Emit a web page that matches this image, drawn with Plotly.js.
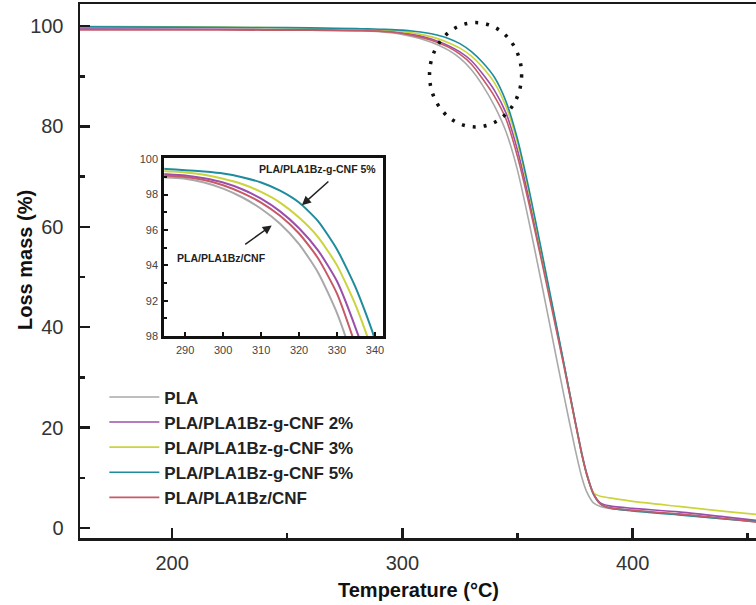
<!DOCTYPE html>
<html>
<head>
<meta charset="utf-8">
<script src="https://cdn.plot.ly/plotly-3.0.1.min.js"></script>
<style>html,body{margin:0;padding:0;background:#fff;}#chart{width:756px;height:605px;}</style>
</head>
<body>
<div id="chart"></div>
<script>
const temperature = [160, 200, 240, 260, 280, 285, 290, 295, 300, 305, 310, 315, 320, 325, 330, 335, 340, 345, 350, 355, 360, 365, 370, 375, 378, 380, 383, 386, 390, 400, 420, 440, 454];
const pla      = [99.45, 99.4, 99.3, 99.2, 99.05, 98.97, 98.9, 98.68, 98.34, 97.85, 97.2, 96.35, 95.2, 93.6, 91.3, 88.1, 84.1, 79.0, 71.3, 61.0, 49.8, 38.3, 26.8, 15.8, 10.0, 7.3, 5.0, 4.3, 3.9, 3.5, 2.7, 1.8, 1.2];
const cnf2     = [99.4, 99.38, 99.33, 99.28, 99.2, 99.15, 99.08, 98.92, 98.68, 98.3, 97.77, 97.05, 96.1, 94.85, 93.1, 90.4, 87.2, 82.7, 75.3, 65.6, 55.0, 44.1, 33.0, 21.5, 14.8, 11.0, 6.9, 5.0, 4.4, 3.9, 3.2, 2.2, 1.5];
const cnf3     = [99.95, 99.85, 99.72, 99.6, 99.4, 99.32, 99.25, 99.12, 98.9, 98.6, 98.15, 97.55, 96.7, 95.6, 94.0, 91.7, 88.7, 84.0, 76.8, 66.9, 55.8, 44.4, 33.0, 21.2, 14.5, 10.7, 7.0, 6.3, 6.0, 5.3, 4.3, 3.3, 2.7];
const cnf5     = [99.85, 99.8, 99.72, 99.65, 99.5, 99.45, 99.38, 99.3, 99.19, 98.98, 98.68, 98.22, 97.55, 96.5, 94.9, 92.7, 89.8, 85.0, 77.5, 67.5, 56.3, 44.8, 33.2, 21.4, 14.6, 10.8, 6.7, 4.8, 4.0, 3.4, 2.6, 1.8, 1.3];
const bzCnf    = [99.25, 99.24, 99.2, 99.16, 99.1, 99.07, 99.0, 98.82, 98.53, 98.1, 97.55, 96.8, 95.8, 94.4, 92.4, 89.4, 86.0, 81.5, 74.0, 64.6, 54.2, 43.5, 32.6, 21.2, 14.5, 10.8, 6.8, 4.8, 4.0, 3.5, 2.8, 1.9, 1.2];

const seriesNames = ['PLA', 'PLA/PLA1Bz-g-CNF 2%', 'PLA/PLA1Bz-g-CNF 3%', 'PLA/PLA1Bz-g-CNF 5%', 'PLA/PLA1Bz/CNF'];
const seriesValues = [pla, cnf2, cnf3, cnf5, bzCnf];
const seriesColors = ['#a9a9a9', '#9b4fab', '#ccd43c', '#1f8c9c', '#c65a66'];

const mainXTicks = [200, 300, 400];
const mainYTicks = [0, 20, 40, 60, 80, 100];
const insetXTicks = [290, 300, 310, 320, 330, 340];
const insetYTicks = [90, 92, 94, 96, 98, 100];
const insetYTickText = ['98', '92', '94', '96', '98', '100'];
const xTitle = 'Temperature (°C)';
const yTitle = 'Loss mass (%)';

const FONT = 'Liberation Sans, Arial, Helvetica, sans-serif';
const traces = [];
seriesValues.forEach((vals, i) => {
  traces.push({
    x: temperature, y: vals, name: seriesNames[i], type: 'scatter', mode: 'lines',
    line: {color: seriesColors[i], width: 1.6, shape: 'spline', smoothing: 0.6},
    xaxis: 'x', yaxis: 'y', showlegend: true, hoverinfo: 'skip'
  });
});
seriesValues.forEach((vals, i) => {
  traces.push({
    x: temperature, y: vals, name: seriesNames[i], type: 'scatter', mode: 'lines',
    line: {color: seriesColors[i], width: 2, shape: 'spline', smoothing: 0.6},
    xaxis: 'x2', yaxis: 'y2', showlegend: false, hoverinfo: 'skip'
  });
});

const axisColor = '#1a1a1a';
const layout = {
  width: 756, height: 605,
  margin: {l: 80, r: 0, t: 4, b: 67},
  paper_bgcolor: '#ffffff', plot_bgcolor: '#ffffff',
  font: {family: FONT, color: '#333'},
  xaxis: {
    domain: [0, 1], range: [160, 453.6], showgrid: false, zeroline: false,
    showline: true, linewidth: 2.5, linecolor: axisColor, mirror: true,
    ticks: 'inside', ticklen: 10, tickwidth: 2.5, tickcolor: axisColor,
    tickvals: mainXTicks, ticklabelstandoff: 5,
    minor: {dtick: 50, tick0: 0, ticks: 'inside', ticklen: 5, tickwidth: 2.5, tickcolor: axisColor, showgrid: false},
    tickfont: {family: FONT, size: 20, color: '#333'}
  },
  yaxis: {
    domain: [0, 1], range: [-2, 104.4], showgrid: false, zeroline: false,
    showline: true, linewidth: 2.5, linecolor: axisColor, mirror: false,
    ticks: 'inside', ticklen: 10, tickwidth: 2.5, tickcolor: axisColor,
    tickvals: mainYTicks, ticklabelstandoff: 10,
    minor: {dtick: 10, tick0: 0, ticks: 'inside', ticklen: 5, tickwidth: 2.5, tickcolor: axisColor, showgrid: false},
    tickfont: {family: FONT, size: 20, color: '#333'}
  },
  xaxis2: {
    domain: [0.1247, 0.4487], anchor: 'y2', range: [284.5, 342.2], showgrid: false, zeroline: false,
    showline: true, linewidth: 3, linecolor: '#111', mirror: true,
    ticks: 'inside', ticklen: 4, tickwidth: 2, tickcolor: '#111',
    tickvals: insetXTicks, ticklabelstandoff: 2,
    tickfont: {family: FONT, size: 11, color: '#444'}
  },
  yaxis2: {
    domain: [0.378, 0.711], anchor: 'x2', range: [90, 100.05], showgrid: false, zeroline: false,
    showline: true, linewidth: 3, linecolor: '#111', mirror: true,
    ticks: 'inside', ticklen: 4, tickwidth: 2, tickcolor: '#111',
    tickvals: insetYTicks, ticktext: insetYTickText, ticklabelstandoff: 1,
    minor: {dtick: 1, tick0: 0, ticks: 'inside', ticklen: 3, tickwidth: 2, tickcolor: '#111', showgrid: false},
    tickfont: {family: FONT, size: 11, color: '#444'}
  },
  legend: {
    x: 0.036, xanchor: 'left', y: 0.297, yanchor: 'top',
    bgcolor: 'rgba(0,0,0,0)', borderwidth: 0,
    font: {family: FONT, size: 17, color: '#222', weight: 'bold'},
    itemwidth: 50, tracegroupgap: 0
  },
  shapes: [{
    type: 'circle', xref: 'x', yref: 'y', x0: 311.8, x1: 351.8, y0: 79.9, y1: 100.7,
    line: {color: '#111', width: 3.5, dash: '3px,8px'}
  }],
  annotations: [
    {xref: 'paper', yref: 'paper', x: 0.5, y: -0.0974, xanchor: 'center', yanchor: 'middle',
     text: '<b>' + xTitle + '</b>', showarrow: false, font: {family: FONT, size: 20, color: '#111'}},
    {xref: 'paper', yref: 'paper', x: -0.0814, y: 0.5206, xanchor: 'center', yanchor: 'middle', textangle: -90,
     text: '<b>' + yTitle + '</b>', showarrow: false, font: {family: FONT, size: 20, color: '#111'}},
    {xref: 'x2', yref: 'y2', x: 324.8, y: 99.43, text: '<b>PLA/PLA1Bz-g-CNF 5%</b>', showarrow: false,
     font: {family: FONT, size: 10.5, color: '#222'}},
    {xref: 'x2', yref: 'y2', x: 320.75, y: 97.4, ax: 28, ay: -25, text: '', showarrow: true,
     arrowhead: 2, arrowsize: 1.2, arrowwidth: 1.5, arrowcolor: '#222'},
    {xref: 'x2', yref: 'y2', x: 299.6, y: 94.4, text: '<b>PLA/PLA1Bz/CNF</b>', showarrow: false,
     font: {family: FONT, size: 10.5, color: '#222'}},
    {xref: 'x2', yref: 'y2', x: 312.8, y: 96.26, ax: -28, ay: 20, text: '', showarrow: true,
     arrowhead: 2, arrowsize: 1.2, arrowwidth: 1.5, arrowcolor: '#222'}
  ]
};

Plotly.newPlot('chart', traces, layout, {staticPlot: true, displayModeBar: false});
</script>
</body>
</html>
